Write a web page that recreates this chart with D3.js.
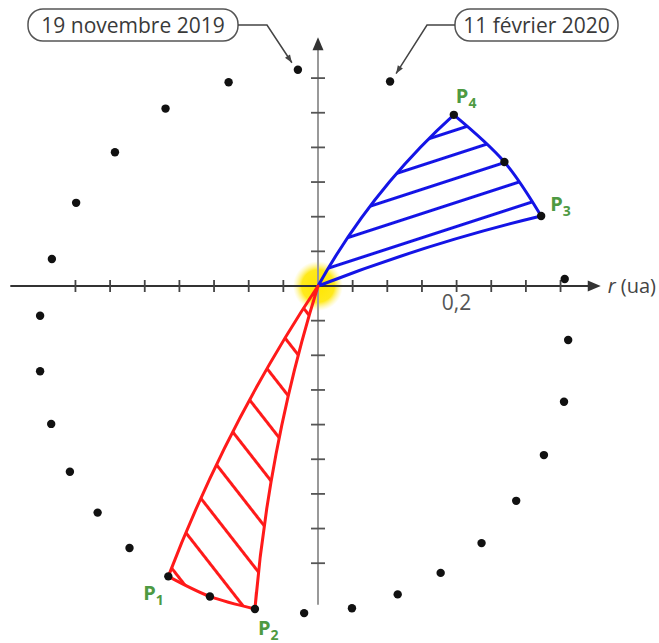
<!DOCTYPE html>
<meta charset="utf-8">
<style>
    body { margin: 0; background: #fff; font-family: 'Open Sans', sans-serif; }
</style>
<svg width="659" height="643"></svg>
<script src="https://d3js.org/d3.v7.min.js"></script>
<script>
    // orbit positions (ua), one dot every 3 days, from 19 nov 2019 to 11 feb 2020
    var orbitX = [-0.029, -0.129, -0.220, -0.293, -0.349, -0.384, -0.401, -0.401, -0.385, -0.358,
        -0.318, -0.272, -0.216, -0.156, -0.091, -0.020, 0.049, 0.115, 0.177, 0.236,
        0.286, 0.326, 0.355, 0.361, 0.356, 0.322, 0.269, 0.196, 0.104];
    var orbitY = [0.312, 0.294, 0.256, 0.193, 0.120, 0.039, -0.043, -0.123, -0.199, -0.268,
        -0.327, -0.378, -0.419, -0.448, -0.466, -0.472, -0.465, -0.445, -0.414, -0.371,
        -0.310, -0.244, -0.167, -0.078, 0.010, 0.101, 0.179, 0.247, 0.295];

    var pointNames = ["1", "2", "3", "4"];
    var pointIndex = [12, 14, 25, 27];
    var calloutText = ["19 novembre 2019", "11 février 2020"];
    var xTicks = [-0.35, -0.30, -0.25, -0.20, -0.15, -0.10, -0.05, 0.05, 0.10, 0.15, 0.20, 0.25, 0.30, 0.35];
    var yTicks = [-0.40, -0.35, -0.30, -0.25, -0.20, -0.15, -0.10, -0.05, 0.05, 0.10, 0.15, 0.20, 0.25, 0.30];
    var xTickLabel = {0.2: "0,2"};

    var svg = d3.select("svg");
    var k = 693; // px per ua
    var x0 = 318, y0 = 286;
    var x = d3.scaleLinear().domain([0, 0.2]).range([x0, x0 + 0.2 * k]);
    var y = d3.scaleLinear().domain([0, 0.2]).range([y0, y0 - 0.2 * k]);

    var dots = orbitX.map(function (d, i) { return {x: orbitX[i], y: orbitY[i]}; });

    var defs = svg.append("defs");
    var glow = defs.append("radialGradient").attr("id", "sun");
    glow.append("stop").attr("offset", "0%").attr("stop-color", "#ffe600").attr("stop-opacity", 1);
    glow.append("stop").attr("offset", "65%").attr("stop-color", "#ffe810").attr("stop-opacity", 0.95);
    glow.append("stop").attr("offset", "100%").attr("stop-color", "#fff27a").attr("stop-opacity", 0);

    function hatch(id, color, angle, gap) {
        var p = defs.append("pattern")
            .attr("id", id)
            .attr("patternUnits", "userSpaceOnUse")
            .attr("width", 400).attr("height", gap)
            .attr("patternTransform", "rotate(" + angle + ")");
        p.append("line")
            .attr("x1", 0).attr("x2", 400)
            .attr("y1", gap / 2).attr("y2", gap / 2)
            .attr("stroke", color).attr("stroke-width", 2.8);
    }
    hatch("hatchBlue", "#1414e6", -18, 23);
    hatch("hatchRed", "#ff1a1a", 52, 33);

    // sun glow
    svg.append("circle")
        .attr("cx", x(0)).attr("cy", y(0)).attr("r", 25)
        .attr("fill", "url(#sun)");

    // x axis
    var ax = svg.append("g");
    ax.append("line")
        .attr("x1", x(-0.444)).attr("x2", x(0.4))
        .attr("y1", y(0)).attr("y2", y(0))
        .attr("stroke", "#333").attr("stroke-width", 2);
    ax.append("path")
        .attr("d", "M" + x(0.408) + "," + y(0) + "l-13,-5.5v11z")
        .attr("fill", "#333");
    ax.selectAll(".xt").data(xTicks).enter().append("line")
        .attr("x1", function (d) { return x(d); }).attr("x2", function (d) { return x(d); })
        .attr("y1", y(0) - 6).attr("y2", y(0) + 6)
        .attr("stroke", "#444").attr("stroke-width", 1.8);
    ax.selectAll(".xl").data(xTicks.filter(function (d) { return xTickLabel[d]; })).enter().append("text")
        .attr("x", function (d) { return x(d); })
        .attr("y", y(0) + 24)
        .attr("text-anchor", "middle")
        .attr("font-size", 21)
        .attr("fill", "#555")
        .text(function (d) { return xTickLabel[d]; });
    var rl = ax.append("text")
        .attr("x", x(0.418)).attr("y", y(0) + 7)
        .attr("font-size", 20).attr("fill", "#444");
    rl.append("tspan").attr("font-style", "italic").text("r");
    rl.append("tspan").text(" (ua)");

    // y axis
    var ay = svg.append("g");
    ay.append("line")
        .attr("x1", x(0)).attr("x2", x(0))
        .attr("y1", y(-0.46)).attr("y2", y(0.345))
        .attr("stroke", "#999").attr("stroke-width", 2);
    ay.append("path")
        .attr("d", "M" + x(0) + "," + y(0.359) + "l-5.5,13h11z")
        .attr("fill", "#333");
    ay.selectAll(".yt").data(yTicks).enter().append("line")
        .attr("x1", x(0) - 7).attr("x2", x(0) + 7)
        .attr("y1", function (d) { return y(d); }).attr("y2", function (d) { return y(d); })
        .attr("stroke", "#555").attr("stroke-width", 1.8);

    // shaded areas swept by the planet
    var line = d3.line()
        .x(function (d) { return x(d.x); })
        .y(function (d) { return y(d.y); })
        .curve(d3.curveCatmullRom);

    // control point for a slightly bowed hand-drawn edge
    function bow(a, b, dev, dir) {
        var dx = b[0] - a[0], dy = b[1] - a[1], len = Math.sqrt(dx * dx + dy * dy);
        var px = -dy / len, py = dx / len;
        if (px * dir[0] + py * dir[1] < 0) { px = -px; py = -py; }
        return [(a[0] + b[0]) / 2 + px * dev * 2, (a[1] + b[1]) / 2 + py * dev * 2];
    }

    function sector(from, to, color, pat, devIn, dirIn, devOut, dirOut) {
        var arc = dots.slice(from, to + 1);
        var sun = [x(0), y(0)];
        var p0 = [x(arc[0].x), y(arc[0].y)];
        var p1 = [x(arc[arc.length - 1].x), y(arc[arc.length - 1].y)];
        var c0 = bow(sun, p0, devIn, dirIn), c1 = bow(p1, sun, devOut, dirOut);
        var full = "M" + sun + "Q" + c0 + " " + p0 +
            line(arc).replace(/^M[^C]*/, "") +
            "Q" + c1 + " " + sun + "Z";
        svg.append("path").attr("d", full).attr("fill", "url(#" + pat + ")");
        svg.append("path").attr("d", full)
            .attr("fill", "none").attr("stroke", color)
            .attr("stroke-width", 3).attr("stroke-linejoin", "round");
    }
    sector(pointIndex[2], pointIndex[3], "#1414e6", "hatchBlue", 4, [-1, -1], 9, [-1, -1]);
    sector(pointIndex[0], pointIndex[1], "#ff1a1a", "hatchRed", 9, [-1, 0], 9, [-1, 0]);

    // orbit dots
    svg.selectAll(".dot").data(dots).enter().append("circle")
        .attr("cx", function (d) { return x(d.x); })
        .attr("cy", function (d) { return y(d.y); })
        .attr("r", 4.2)
        .attr("fill", "#111");

    // point labels
    var labelOffset = [[-25, 24], [3, 26], [9, -5], [2, -12]];
    pointIndex.forEach(function (idx, i) {
        var t = svg.append("text")
            .attr("x", x(dots[idx].x) + labelOffset[i][0])
            .attr("y", y(dots[idx].y) + labelOffset[i][1])
            .attr("fill", "#4e9a42")
            .attr("font-weight", 700)
            .attr("font-size", 20);
        t.append("tspan").text("P");
        t.append("tspan").attr("font-size", 14).attr("dy", 5).text(pointNames[i]);
    });

    // date callouts
    var boxes = [{x: 28, w: 210, tip: [-6, -7], elbow: 267, side: "right"},
        {x: 455, w: 163, tip: [6, -8], elbow: 427, side: "left"}];
    var ends = [0, dots.length - 1];
    boxes.forEach(function (b, i) {
        var g = svg.append("g");
        g.append("rect")
            .attr("x", b.x).attr("y", 9).attr("width", b.w).attr("height", 32)
            .attr("rx", 15)
            .attr("fill", "#fff").attr("stroke", "#555").attr("stroke-width", 1.5);
        g.append("text")
            .attr("x", b.x + b.w / 2).attr("y", 33)
            .attr("text-anchor", "middle")
            .attr("font-size", 21).attr("fill", "#3a3a3a")
            .text(calloutText[i]);
        var start = b.side === "right" ? b.x + b.w : b.x;
        var tx = x(dots[ends[i]].x) + b.tip[0], ty = y(dots[ends[i]].y) + b.tip[1];
        g.append("path")
            .attr("d", "M" + start + ",25H" + b.elbow + "L" + tx + "," + ty)
            .attr("fill", "none").attr("stroke", "#444").attr("stroke-width", 1.5);
        var ang = Math.atan2(ty - 25, tx - b.elbow) * 180 / Math.PI;
        g.append("path")
            .attr("d", "M0,0l-8,-3v6z")
            .attr("transform", "translate(" + tx + "," + ty + ") rotate(" + ang + ")")
            .attr("fill", "#444");
    });
</script>
